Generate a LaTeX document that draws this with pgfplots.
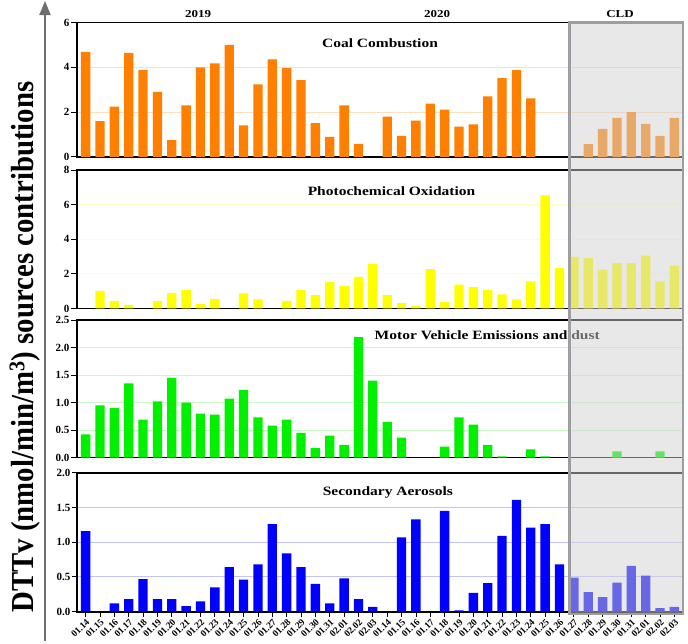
\documentclass[border=0pt]{standalone}
\usepackage{fontspec}
\setmainfont{Liberation Serif}
\usepackage{pgfplots}
\pgfplotsset{compat=1.18}
\usetikzlibrary{arrows.meta}
\definecolor{cOr}{RGB}{255,128,0}
\definecolor{cYe}{RGB}{255,255,0}
\definecolor{cGr}{RGB}{0,240,0}
\definecolor{cBl}{RGB}{0,0,255}
\definecolor{gOr}{RGB}{255,222,190}
\definecolor{gYe}{RGB}{255,255,200}
\definecolor{gGr}{RGB}{200,250,200}
\definecolor{gBl}{RGB}{195,195,250}
\definecolor{boxfill}{RGB}{209,209,209}
\definecolor{boxline}{RGB}{158,158,162}
\definecolor{arrowc}{RGB}{110,110,110}
\newcommand{\ttl}[1]{\scalebox{1}[0.82]{#1}}
\begin{document}
\begin{tikzpicture}
\useasboundingbox (0,0) rectangle (688pt,-643pt);
\pgfplotsset{
 panel/.style={scale only axis, width=606pt, xmin=-0.6, xmax=41.6, ymin=0,
   ybar, bar width=0.65,
   axis line style={line width=1.6pt}, ymajorgrids, tick align=outside,
   ytick pos=left, xtick=\empty,
   major tick length=6pt, tick style={line width=1pt, black},
   yticklabel style={font=\bfseries\fontsize{11}{11}\selectfont, inner sep=1.5pt},
   /pgf/number format/assume math mode=true, anchor=north west},
}
% Panel 1: Coal Combustion
\begin{axis}[panel, at={(77pt,-22.5pt)}, height=134.5pt, ymax=6, ytick={0,2,4,6},
  grid style={gOr, line width=1pt}]
\addplot[fill=cOr, draw=none] coordinates {
(0,4.69) (1,1.6) (2,2.25) (3,4.65) (4,3.87) (5,2.9) (6,0.75) (7,2.3) (8,4.0) (9,4.18)
(10,5.0) (11,1.41) (12,3.24) (13,4.36) (14,3.96) (15,3.43) (16,1.51) (17,0.9) (18,2.3) (19,0.58)
(21,1.8) (22,0.94) (23,1.62) (24,2.38) (25,2.11) (26,1.36) (27,1.45) (28,2.7) (29,3.52) (30,3.87) (31,2.62)
(35,0.57) (36,1.26) (37,1.75) (38,2.0) (39,1.48) (40,0.94) (41,1.75)};
\node[font=\bfseries\fontsize{15.5}{15.5}\selectfont] at (rel axis cs:0.5,0.845) {\ttl{Coal Combustion}};
\coordinate (boxTL) at (axis cs:33.7,6);
\end{axis}
% Panel 2: Photochemical Oxidation
\begin{axis}[panel, at={(77pt,-170pt)}, height=138.5pt, ymax=8, ytick={0,2,4,6,8},
  grid style={gYe, line width=1pt}]
\addplot[fill=cYe, draw=none] coordinates {
(1,1.02) (2,0.44) (3,0.21) (5,0.44) (6,0.9) (7,1.06) (8,0.27) (9,0.56) (11,0.87) (12,0.52)
(14,0.44) (15,1.06) (16,0.77) (17,1.54) (18,1.31) (19,1.83) (20,2.58)
(21,0.77) (22,0.31) (23,0.15) (24,2.27) (25,0.38) (26,1.38) (27,1.23) (28,1.08) (29,0.81) (30,0.52) (31,1.56) (32,6.54) (33,2.33)
(34,2.98) (35,2.92) (36,2.25) (37,2.62) (38,2.62) (39,3.06) (40,1.56) (41,2.46)};
\node[font=\bfseries\fontsize{15.5}{15.5}\selectfont] at (rel axis cs:0.519,0.848) {\ttl{Photochemical Oxidation}};
\end{axis}
% Panel 3: Motor Vehicle Emissions and dust
\begin{axis}[panel, at={(77pt,-320pt)}, height=137.5pt, ymax=2.5, ytick={0,0.5,1,1.5,2,2.5},
  grid style={gGr, line width=1pt},
  yticklabel style={/pgf/number format/.cd, fixed, fixed zerofill, precision=1}]
\addplot[fill=cGr, draw=none] coordinates {
(0,0.42) (1,0.95) (2,0.90) (3,1.35) (4,0.69) (5,1.02) (6,1.45) (7,1.0) (8,0.80) (9,0.78)
(10,1.07) (11,1.23) (12,0.73) (13,0.58) (14,0.69) (15,0.45) (16,0.17) (17,0.40) (18,0.23) (19,2.19) (20,1.40)
(21,0.65) (22,0.36) (25,0.2) (26,0.73) (27,0.6) (28,0.23) (29,0.02) (31,0.15) (32,0.02)
(37,0.11) (40,0.11)};
\node[font=\bfseries\fontsize{15.5}{15.5}\selectfont] at (rel axis cs:0.677,0.89) {\ttl{Motor Vehicle Emissions and dust}};
\end{axis}
% Panel 4: Secondary Aerosols
\begin{axis}[panel, at={(77pt,-472.7pt)}, height=139pt, ymax=2, ytick={0,0.5,1,1.5,2},
  grid style={gBl, line width=1pt},
  yticklabel style={/pgf/number format/.cd, fixed, fixed zerofill, precision=1},
  xtick={0,...,41}, xtick pos=left, x tick style={line width=0.8pt}, major tick length=5pt,
  xticklabels={01.14,01.15,01.16,01.17,01.18,01.19,01.20,01.21,01.22,01.23,01.24,01.25,01.26,01.27,01.28,01.29,01.30,01.31,02.01,02.02,02.03,
   01.14,01.15,01.16,01.17,01.18,01.19,01.20,01.21,01.22,01.23,01.24,01.25,01.26,
   01.27,01.28,01.29,01.30,01.31,02.01,02.02,02.03},
  xticklabel style={rotate=45, anchor=north east, inner sep=1pt, font=\bfseries\fontsize{9.5}{9.5}\selectfont}]
\addplot[fill=cBl, draw=none] coordinates {
(0,1.16) (2,0.12) (3,0.18) (4,0.47) (5,0.18) (6,0.18) (7,0.08) (8,0.15) (9,0.35)
(10,0.64) (11,0.46) (12,0.68) (13,1.26) (14,0.84) (15,0.64) (16,0.40) (17,0.12) (18,0.48) (19,0.18) (20,0.07)
(22,1.07) (23,1.33) (25,1.45) (26,0.02) (27,0.27) (28,0.41) (29,1.09) (30,1.61) (31,1.21) (32,1.26) (33,0.68)
(34,0.49) (35,0.28) (36,0.21) (37,0.42) (38,0.66) (39,0.52) (40,0.05) (41,0.07)};
\node[font=\bfseries\fontsize{15.5}{15.5}\selectfont] at (rel axis cs:0.513,0.856) {\ttl{Secondary Aerosols}};
\coordinate (boxBR) at (axis cs:41.6,0);
\end{axis}
% CLD shaded box
\fill[boxfill, opacity=0.5] (boxTL) rectangle ([yshift=-2.5pt]boxBR);
\draw[boxline, line width=2.5pt] (boxTL) rectangle ([yshift=-2.5pt]boxBR);
% Period labels
\node[font=\bfseries\fontsize{13}{13}\selectfont] at (198pt,-14pt) {\ttl{2019}};
\node[font=\bfseries\fontsize{13}{13}\selectfont] at (437pt,-14pt) {\ttl{2020}};
\node[font=\bfseries\fontsize{13}{13}\selectfont] at (620pt,-14pt) {\ttl{CLD}};
% Arrow and axis label
\draw[arrowc, line width=2pt, -{Triangle[width=11pt,length=14pt]}] (45pt,-641pt) -- (45pt,-1pt);
\node[rotate=90, font=\bfseries\fontsize{32}{32}\selectfont] at (25pt,-347pt)
  {\scalebox{0.9}[1]{DTTv (nmol/min/m$^{\mathbf{3}}$) sources contributions}};
\end{tikzpicture}
\end{document}
